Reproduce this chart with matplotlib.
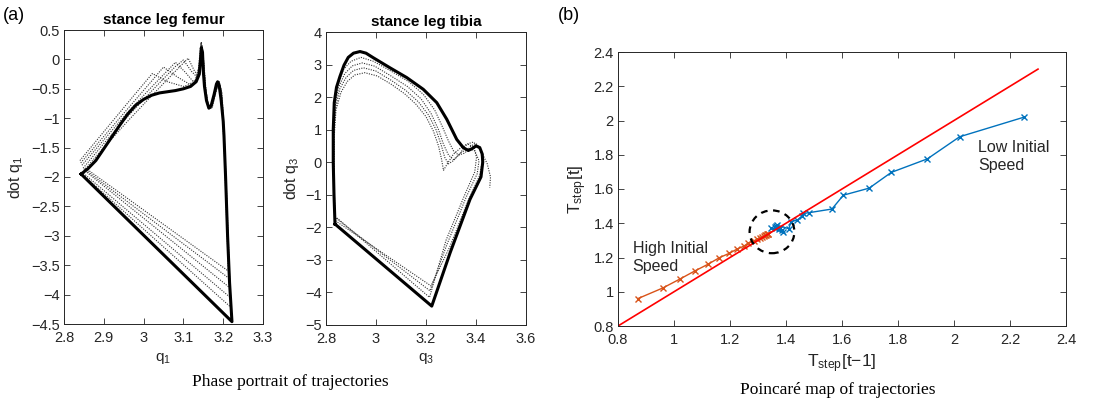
import numpy as np
import matplotlib
matplotlib.use("Agg")
import matplotlib.pyplot as plt
from matplotlib.patches import Ellipse
from matplotlib.ticker import FuncFormatter

plt.rcParams['font.family'] = ['Liberation Sans', 'DejaVu Sans']
plt.rcParams['mathtext.fontset'] = 'custom'
plt.rcParams['mathtext.rm'] = 'Liberation Sans'
plt.rcParams['mathtext.it'] = 'Liberation Sans:italic'

# ---- (a) stance leg femur : limit cycle (solid) and transients (dotted)
femur_q = [2.843, 2.86, 2.88, 2.90, 2.92, 2.94, 2.96, 2.98, 3.00, 3.02, 3.04, 3.06,
           3.08, 3.10, 3.118, 3.132, 3.140, 3.143, 3.145, 3.148, 3.150, 3.153,
           3.158, 3.164, 3.170, 3.177, 3.183, 3.186, 3.190, 3.195, 3.200, 3.202,
           3.206, 3.211, 3.216, 3.222, 2.843]
femur_dq = [-1.95, -1.86, -1.72, -1.52, -1.32, -1.12, -0.93, -0.78, -0.68, -0.61,
            -0.57, -0.55, -0.53, -0.50, -0.46, -0.38, -0.25, 0.0, 0.20, 0.12, -0.20,
            -0.46, -0.70, -0.83, -0.78, -0.60, -0.42, -0.38, -0.45, -0.70, -1.05,
            -1.30, -2.0, -3.0, -3.8, -4.46, -1.95]

femur_dot_q = [
    [2.840, 2.900, 2.960, 3.022, 3.060, 3.100, 3.128, 3.138, 3.144, 3.149, 3.153,
     3.158, 3.166, 3.176, 3.186, 3.193, 3.198, 3.203, 3.208, 3.213, 2.852],
    [2.842, 2.900, 2.960, 3.020, 3.050, 3.085, 3.115, 3.132, 3.140, 3.145, 3.150,
     3.154, 3.160, 3.168, 3.178, 3.188, 3.194, 3.199, 3.204, 3.209, 3.214, 2.850],
    [2.845, 2.900, 2.960, 3.020, 3.080, 3.105, 3.125, 3.136, 3.142, 3.146, 3.150,
     3.155, 3.162, 3.170, 3.180, 3.189, 3.195, 3.200, 3.205, 3.211, 3.216, 2.850],
    [2.848, 2.900, 2.960, 3.020, 3.080, 3.100, 3.120, 3.134, 3.143, 3.147, 3.151,
     3.156, 3.163, 3.172, 3.182, 3.190, 3.196, 3.201, 3.207, 3.213, 3.218, 2.846],
    [2.850, 2.900, 2.960, 3.020, 3.080, 3.112, 3.128, 3.138, 3.144, 3.148, 3.152,
     3.157, 3.164, 3.173, 3.183, 3.190, 3.197, 3.202, 3.208, 3.214, 3.220, 2.844],
]
femur_dot_dq = [
    [-1.72, -1.23, -0.74, -0.24, -0.38, -0.46, -0.40, -0.15, 0.28, 0.05, -0.40,
     -0.70, -0.84, -0.68, -0.42, -0.50, -0.90, -1.60, -2.60, -3.60, -1.84],
    [-1.76, -1.31, -0.84, -0.37, -0.13, -0.30, -0.42, -0.36, -0.10, 0.30, 0.02,
     -0.42, -0.74, -0.85, -0.62, -0.40, -0.50, -0.95, -1.70, -2.70, -3.72, -1.86],
    [-1.80, -1.37, -0.90, -0.47, -0.05, -0.22, -0.38, -0.30, -0.05, 0.25, 0.0,
     -0.45, -0.78, -0.84, -0.58, -0.38, -0.52, -1.00, -1.80, -2.90, -3.88, -1.88],
    [-1.85, -1.43, -0.97, -0.54, -0.12, -0.01, -0.20, -0.30, 0.0, 0.22, -0.05,
     -0.50, -0.80, -0.82, -0.55, -0.38, -0.55, -1.10, -2.00, -3.10, -4.05, -1.92],
    [-1.89, -1.50, -1.05, -0.62, -0.20, 0.02, -0.20, -0.28, 0.05, 0.18, -0.10,
     -0.55, -0.82, -0.80, -0.50, -0.38, -0.58, -1.20, -2.20, -3.40, -4.22, -1.94],
]

# ---- (a) stance leg tibia
tibia_q = [2.836, 2.832, 2.829, 2.829, 2.833, 2.842, 2.856, 2.872, 2.889, 2.910,
           2.936, 2.960, 2.989, 3.056, 3.123, 3.189, 3.243, 3.283, 3.323, 3.349,
           3.369, 3.385, 3.400, 3.415, 3.425, 3.427, 3.420, 3.376, 3.297, 3.223, 2.836]
tibia_dq = [-1.90, -1.0, 0.0, 1.0, 1.83, 2.30, 2.64, 2.98, 3.22, 3.35, 3.40, 3.35,
            3.21, 2.90, 2.60, 2.24, 1.83, 1.32, 0.70, 0.45, 0.36, 0.42, 0.50, 0.45,
            0.25, 0.0, -0.45, -1.14, -2.77, -4.42, -1.90]

tibia_dot_q = [
    [2.836, 2.831, 2.830, 2.834, 2.846, 2.870, 2.900, 2.940, 2.990, 3.060, 3.130,
     3.190, 3.235, 3.265, 3.290, 3.310, 3.330, 3.355, 3.380, 3.400, 3.418, 3.425,
     3.415, 3.370, 3.295, 3.220, 2.838],
    [2.836, 2.831, 2.831, 2.836, 2.850, 2.875, 2.905, 2.945, 2.995, 3.060, 3.125,
     3.180, 3.220, 3.250, 3.270, 3.290, 3.310, 3.335, 3.360, 3.390, 3.420, 3.445,
     3.458, 3.455],
    [2.836, 2.832, 2.832, 2.838, 2.855, 2.880, 2.910, 2.950, 3.000, 3.060, 3.120,
     3.170, 3.210, 3.240, 3.260, 3.275, 3.290, 3.310, 3.340, 3.370, 3.395, 3.412,
     3.405, 3.362, 3.285, 3.216, 2.840],
    [2.836, 2.832, 2.833, 2.840, 2.860, 2.885, 2.915, 2.955, 3.005, 3.060, 3.115,
     3.160, 3.200, 3.230, 3.250, 3.262, 3.270, 3.285, 3.310, 3.340, 3.370, 3.392,
     3.402, 3.395, 3.355, 3.280, 3.214, 2.842],
]
tibia_dot_dq = [
    [-1.85, -0.5, 0.8, 1.75, 2.35, 2.85, 3.10, 3.22, 3.10, 2.80, 2.48, 2.08, 1.60,
     1.10, 0.65, 0.35, 0.22, 0.28, 0.50, 0.58, 0.40, 0.05, -0.40, -1.15, -2.60,
     -3.80, -1.80],
    [-1.85, -0.5, 0.8, 1.70, 2.30, 2.72, 2.96, 3.05, 2.95, 2.65, 2.33, 1.95, 1.50,
     1.00, 0.55, 0.22, 0.08, 0.25, 0.55, 0.62, 0.35, -0.05, -0.45, -0.78],
    [-1.80, -0.5, 0.8, 1.65, 2.25, 2.60, 2.82, 2.90, 2.80, 2.52, 2.20, 1.85, 1.45,
     1.00, 0.55, 0.15, -0.05, 0.05, 0.30, 0.42, 0.35, 0.05, -0.35, -1.05, -2.50,
     -3.95, -1.72],
    [-1.80, -0.5, 0.8, 1.60, 2.15, 2.48, 2.68, 2.75, 2.65, 2.40, 2.10, 1.78, 1.40,
     0.95, 0.50, 0.10, -0.25, -0.05, 0.25, 0.45, 0.55, 0.45, 0.15, -0.30, -1.00,
     -2.40, -4.15, -1.70],
]

# ---- (b) step periods, plotted as T[t-1] -> T[t]
T_low = [2.251, 2.020, 1.905, 1.776, 1.697, 1.605, 1.564, 1.483, 1.462, 1.457,
         1.440, 1.418, 1.410, 1.368, 1.389, 1.346, 1.374, 1.364, 1.385, 1.362,
         1.380, 1.372]
T_high = [0.871, 0.960, 1.022, 1.075, 1.122, 1.161, 1.198, 1.225, 1.249, 1.266,
          1.284, 1.296, 1.306, 1.314, 1.320, 1.325, 1.329, 1.332, 1.335, 1.337, 1.339]
diag = [0.8, 2.3]
fixed_pt = (1.35, 1.35)

TICK_COL = '#262626'
fmt = FuncFormatter(lambda v, p: ('%g' % round(v, 4)).replace('-', '\u2212'))


def style(ax):
    ax.tick_params(direction='in', top=True, right=True, length=4, width=0.6,
                   labelsize=10.5, colors=TICK_COL)
    ax.tick_params(axis='x', pad=5)
    ax.tick_params(axis='y', pad=3)
    for s in ax.spines.values():
        s.set_linewidth(0.7)
        s.set_color(TICK_COL)
    ax.xaxis.set_major_formatter(fmt)
    ax.yaxis.set_major_formatter(fmt)


fig = plt.figure(figsize=(11.02, 4.0), dpi=100)
W, H = 1102.0, 400.0

ax1 = fig.add_axes([64 / W, 1 - 324 / H, 199 / W, 294 / H])
ax2 = fig.add_axes([326 / W, 1 - 325 / H, 200 / W, 293 / H])
ax3 = fig.add_axes([618 / W, 1 - 326 / H, 448 / W, 274 / H])

dot_kw = dict(color='0.2', lw=0.8, ls=(0, (1, 1.2)))

for q, dq in zip(femur_dot_q, femur_dot_dq):
    ax1.plot(q, dq, **dot_kw)
ax1.plot(femur_q, femur_dq, color='k', lw=2.2, solid_joinstyle='round')
ax1.set_xlim(2.8, 3.3)
ax1.set_ylim(-4.5, 0.5)
ax1.set_xticks(np.arange(2.8, 3.31, 0.1))
ax1.set_yticks(np.arange(-4.5, 0.51, 0.5))
ax1.set_title('stance leg femur', fontsize=11, fontweight='bold', pad=4)
ax1.set_xlabel('q$_1$', fontsize=11, color=TICK_COL, labelpad=4)
ax1.set_ylabel('dot q$_1$', fontsize=11.5, color=TICK_COL, labelpad=4)
style(ax1)

for q, dq in zip(tibia_dot_q, tibia_dot_dq):
    ax2.plot(q, dq, **dot_kw)
ax2.plot(tibia_q, tibia_dq, color='k', lw=2.2, solid_joinstyle='round')
ax2.set_xlim(2.8, 3.6)
ax2.set_ylim(-5, 4)
ax2.set_xticks(np.arange(2.8, 3.61, 0.2))
ax2.set_yticks(np.arange(-5, 4.1, 1))
ax2.set_title('stance leg tibia', fontsize=11, fontweight='bold', pad=4)
ax2.set_xlabel('q$_3$', fontsize=11, color=TICK_COL, labelpad=4)
ax2.set_ylabel('dot q$_3$', fontsize=11.5, color=TICK_COL, labelpad=3)
style(ax2)

ax3.plot(T_high[:-1], T_high[1:], color='#D95319', lw=1.0, marker='x', ms=4.5, mew=1.0)
ax3.plot(T_low[:-1], T_low[1:], color='#0072BD', lw=1.0, marker='x', ms=4.5, mew=1.0)
ax3.plot(diag, diag, color='#FF0000', lw=1.2)
ax3.add_patch(Ellipse(fixed_pt, 0.16, 0.25, fill=False, ec='k', lw=1.6,
                      ls=(0, (3, 2.5)), zorder=5))
ax3.set_xlim(0.8, 2.4)
ax3.set_ylim(0.8, 2.4)
ax3.set_xticks(np.arange(0.8, 2.41, 0.2))
ax3.set_yticks(np.arange(0.8, 2.41, 0.2))
ax3.set_xlabel('T$_\\mathregular{step}$[t\u22121]', fontsize=12.5, color=TICK_COL, labelpad=4)
ax3.set_ylabel('T$_\\mathregular{step}$[t]', fontsize=12.5, color=TICK_COL, labelpad=3)
ax3.text(2.087, 1.79, 'Low Initial\nSpeed', fontsize=11.5, va='center', ha='left',
         color=TICK_COL, linespacing=1.25)
ax3.text(0.852, 1.20, 'High Initial\nSpeed', fontsize=11.5, va='center', ha='left',
         color=TICK_COL, linespacing=1.25)
style(ax3)

fig.text(3 / W, 1 - 15 / H, '(a)', fontsize=13, va='center', ha='left')
fig.text(558 / W, 1 - 15 / H, '(b)', fontsize=13, va='center', ha='left')
fig.text(290 / W, 1 - 382 / H, 'Phase portrait of trajectories', fontsize=12.5,
         family='Liberation Serif', ha='center', va='center')
fig.text(838 / W, 1 - 390 / H, 'Poincar\u00e9 map of trajectories', fontsize=12.5,
         family='Liberation Serif', ha='center', va='center')

fig.savefig('out.png', dpi=100)
